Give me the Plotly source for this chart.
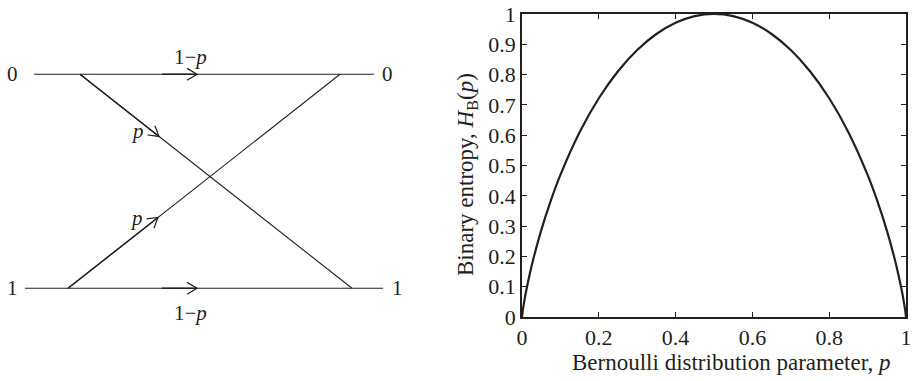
import math
import plotly.graph_objects as go

# ---------------- Data: binary entropy curve ----------------
p_vals = [0, 0.002, 0.005, 0.01, 0.02, 0.03, 0.05, 0.075, 0.1, 0.15, 0.2, 0.25,
          0.3, 0.35, 0.4, 0.45, 0.5, 0.55, 0.6, 0.65, 0.7, 0.75, 0.8, 0.85, 0.9,
          0.925, 0.95, 0.97, 0.98, 0.99, 0.995, 0.998, 1]
h_vals = [0, 0.021, 0.045, 0.081, 0.141, 0.194, 0.286, 0.384, 0.469, 0.610, 0.722, 0.811,
          0.881, 0.934, 0.971, 0.993, 1.0, 0.993, 0.971, 0.934, 0.881, 0.811, 0.722, 0.610, 0.469,
          0.384, 0.286, 0.194, 0.141, 0.081, 0.045, 0.021, 0]
x_ticks = [0, 0.2, 0.4, 0.6, 0.8, 1]
x_tick_labels = ["0", "0.2", "0.4", "0.6", "0.8", "1"]
y_ticks = [0, 0.1, 0.2, 0.3, 0.4, 0.5, 0.6, 0.7, 0.8, 0.9, 1]
y_tick_labels = ["0", "0.1", "0.2", "0.3", "0.4", "0.5", "0.6", "0.7", "0.8", "0.9", "1"]
x_title = "Bernoulli distribution parameter, <i>p</i>"
y_title = "Binary entropy, <i>H</i><sub>B</sub>(<i>p</i>)"

# ---------------- Data: binary symmetric channel diagram ----------------
symbols = ["0", "1"]
row_y = [1, 0]                 # row of symbol 0 (top) and symbol 1 (bottom)
in_label_x = [12, 12]
out_label_x = [387, 397]
# edges: (x_start, y_start, x_end, y_end, x_of_arrow_tip, label, label_x, label_y, x_shaft_start)
edges = [
    (34, 1, 374, 1, 197, "1\u2212<i>p</i>", 190, 1.08, 162),
    (25, 0, 383, 0, 197, "1\u2212<i>p</i>", 190, -0.115, 162),
    (80, 1, 352, 0, 159, "<i>p</i>", 137, 0.735, 80),
    (68, 0, 340, 1, 158, "<i>p</i>", 136, 0.33, 68),
]

FONT = "Liberation Serif, Times New Roman, serif"
INK = "#231f20"
W, H = 912, 381

# diagram axis scales (pixels per unit)
Y_LO, Y_HI = -0.4332, 1.3472
SY = H / (Y_HI - Y_LO)
SX = 1.0

fig = go.Figure()

# entropy curve
fig.add_trace(go.Scatter(x=p_vals, y=h_vals, mode="lines",
                         line=dict(color=INK, width=2.2, shape="spline", smoothing=0.6),
                         xaxis="x", yaxis="y", hoverinfo="skip", showlegend=False))

def y_at(e, x):
    x0, y0, x1, y1 = e[0], e[1], e[2], e[3]
    return y0 + (y1 - y0) * (x - x0) / (x1 - x0)

for e in edges:
    x0, y0, x1, y1, xt, lab, lx, ly, xs = e
    fig.add_trace(go.Scatter(x=[x0, x1], y=[y0, y1], mode="lines",
                             line=dict(color=INK, width=1.1), xaxis="x2", yaxis="y2",
                             hoverinfo="skip", showlegend=False))
    fig.add_trace(go.Scatter(x=[xs, xt], y=[y_at(e, xs), y_at(e, xt)], mode="lines",
                             line=dict(color=INK, width=1.4), xaxis="x2", yaxis="y2",
                             hoverinfo="skip", showlegend=False))
    yt = y_at(e, xt)
    dxp = (x1 - x0) * SX
    dyp = -(y1 - y0) * SY
    L = math.hypot(dxp, dyp)
    ux, uy = dxp / L, dyp / L
    arm, ang = 11.5, math.radians(31)
    pts_x, pts_y = [], []
    for s in (1, -1):
        ca, sa = math.cos(s * ang), math.sin(s * ang)
        bx = -(ux * ca - uy * sa) * arm
        by = -(ux * sa + uy * ca) * arm
        pts_x.append(xt + bx / SX)
        pts_y.append(yt - by / SY)
    fig.add_trace(go.Scatter(x=[pts_x[0], xt, pts_x[1]], y=[pts_y[0], yt, pts_y[1]],
                             mode="lines", line=dict(color=INK, width=1.2),
                             xaxis="x2", yaxis="y2", hoverinfo="skip", showlegend=False))
    fig.add_annotation(x=lx, y=ly, xref="x2", yref="y2", text=lab, showarrow=False,
                       font=dict(family=FONT, size=21, color=INK))

for i, s in enumerate(symbols):
    fig.add_annotation(x=in_label_x[i], y=row_y[i], xref="x2", yref="y2", text=s,
                       showarrow=False, font=dict(family=FONT, size=21, color=INK))
    fig.add_annotation(x=out_label_x[i], y=row_y[i], xref="x2", yref="y2", text=s,
                       showarrow=False, font=dict(family=FONT, size=21, color=INK))

# axis titles (placed as annotations to match the original offsets)
fig.add_annotation(x=731 / W, y=(H - 362) / H, xref="paper", yref="paper", text=x_title,
                   showarrow=False, xanchor="center", yanchor="middle",
                   font=dict(family=FONT, size=23, color=INK))
fig.add_annotation(x=467 / W, y=(H - 175) / H, xref="paper", yref="paper", text=y_title,
                   showarrow=False, textangle=-90, xanchor="center", yanchor="middle",
                   font=dict(family=FONT, size=23, color=INK))

axis_common = dict(showgrid=False, zeroline=False, showline=True, linecolor=INK, linewidth=1.5,
                   mirror="ticks", ticks="inside", ticklen=5, tickwidth=1, tickcolor=INK,
                   tickfont=dict(family=FONT, size=22, color=INK), automargin=False)

fig.update_layout(
    width=W, height=H, margin=dict(l=0, r=0, t=0, b=0),
    paper_bgcolor="white", plot_bgcolor="white",
    xaxis=dict(domain=[522 / W, 906 / W], range=[0, 1], tickvals=x_ticks,
               ticktext=x_tick_labels, anchor="y", **axis_common),
    yaxis=dict(domain=[(H - 317) / H, (H - 14) / H], range=[0, 1], tickvals=y_ticks,
               ticktext=y_tick_labels, anchor="x", **axis_common),
    xaxis2=dict(domain=[0, 440 / W], range=[0, 440], visible=False, anchor="y2"),
    yaxis2=dict(domain=[0, 1], range=[Y_LO, Y_HI], visible=False, anchor="x2"),
)

fig.write_html("out.html", config={"displayModeBar": False},
               post_script="document.body.style.margin='0';document.body.style.overflow='hidden';")
